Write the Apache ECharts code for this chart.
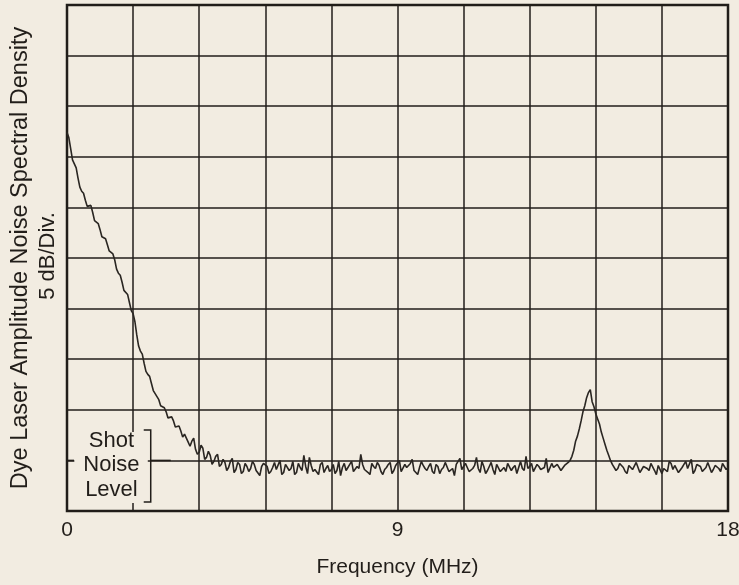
<!DOCTYPE html>
<html><head><meta charset="utf-8">
<script src="https://cdn.jsdelivr.net/npm/echarts@6/dist/echarts.min.js"></script>
<style>html,body{margin:0;padding:0;background:#f2ece1;}#c{width:739px;height:585px;}</style>
</head><body><div id="c"></div>
<script>
// Frequency axis (MHz): 0 .. 18; two interleaved sample sets
const freqStartA = 0, freqStartB = 0.05, freqStep = 0.1;
const xTickLabels = ['0', '9', '18'];
const xTitle = 'Frequency (MHz)';
const yTitle1 = 'Dye Laser Amplitude Noise Spectral Density';
const yTitle2 = '5 dB/Div.';
const shotLabel = ['Shot', 'Noise', 'Level'];
const shotNoiseLevel = 5; // dB above bottom of screen (one division)

// Samples A at 0.0, 0.1, ... 18.0 MHz (dB above bottom of screen)
const levelsRolloffA = [ // 0.0 .. 5.0
  37.4,35.8,34.3,32.9,31.6,30.7,30.0,29.5,28.6,27.8,
  27.1,26.3,25.6,24.8,23.5,22.6,21.7,20.6,19.5,17.4,
  15.8,14.6,13.5,12.6,11.6,11.0,10.3,9.8,9.1,8.9,
  8.2,7.9,7.6,6.8,6.9,6.1,5.8,6.2,5.3,5.5,
  4.9,5.6,4.6,4.8,4.3,5.2,4.1,4.6,3.9,4.4,
  4.2
];
const levelsFloorA1 = [ // 5.1 .. 13.6
  4.6,3.9,4.4,4.8,3.7,4.3,4.1,5.0,3.8,4.5,
  4.2,3.6,4.7,4.0,4.4,5.3,3.9,4.2,4.6,3.8,
  4.5,4.1,3.7,4.9,4.3,4.0,4.6,3.9,4.4,5.6,
  4.1,3.8,4.7,4.2,4.5,3.6,4.3,4.8,4.0,4.4,
  3.9,4.6,4.2,5.1,3.8,4.3,4.5,4.0,4.7,3.7,
  4.4,4.1,4.8,3.9,4.2,4.6,5.2,4.0,4.3,3.8,
  4.5,4.2,4.9,3.7,4.4,4.1,4.6,3.9,4.3,4.7,
  4.0,4.5,3.8,4.2,5.4,4.4,3.9,4.6,4.1,4.3,
  3.8,4.7,4.2,4.5,4.0,4.4
];
const levelsPeakA = [ // 13.7 .. 14.9
  5.0,6.0,7.4,8.9,10.4,11.7,10.8,9.6,8.6,7.2,6.0,5.0,4.5
];
const levelsFloorA2 = [ // 15.0 .. 18.0
  4.2,4.6,3.9,4.5,4.1,4.8,3.8,4.4,4.2,4.7,
  4.0,4.5,3.7,4.3,4.9,4.1,4.4,3.8,4.6,4.2,
  5.1,4.0,4.5,3.9,4.3,4.7,4.1,4.6,3.9,4.4,4.3
];

// Samples B at 0.05, 0.15, ... 17.95 MHz
const levelsRolloffB = [ // 0.05 .. 4.95
  36.9,34.7,33.9,32.0,31.4,30.1,30.2,28.7,28.4,27.1,
  26.9,25.7,25.4,23.9,23.3,21.8,21.4,19.8,18.7,16.3,
  15.5,13.8,13.3,11.9,11.5,10.4,10.2,9.2,9.3,8.3,
  8.4,7.3,7.5,6.4,7.2,5.6,6.5,5.1,5.9,4.6,
  5.4,4.4,5.1,4.0,4.9,3.8,4.8,3.7,4.7,3.9
];
const levelsFloorB1 = [ // 5.05 .. 13.65
  4.9,4.0,3.5,4.7,4.4,3.9,4.8,4.2,3.6,4.6,
  4.0,4.9,3.8,4.3,5.5,3.7,4.5,4.1,3.6,4.8,
  4.2,3.9,4.6,4.0,3.5,4.7,4.3,4.9,3.8,4.2,
  4.6,4.0,3.6,4.4,4.8,3.9,4.1,4.6,3.7,4.5,
  5.0,3.8,4.3,4.7,4.0,3.6,4.9,4.2,4.4,3.9,
  4.6,3.7,4.3,4.8,4.0,3.5,4.5,4.1,4.7,3.9,
  4.2,5.3,3.8,4.4,4.0,4.8,3.6,4.5,4.1,3.9,
  4.6,4.3,3.7,4.9,4.0,4.2,4.7,3.8,4.4,4.1,
  5.2,3.9,4.3,4.6,4.0,4.5,4.8
];
const levelsPeakB = [ // 13.75 .. 14.85
  5.4,6.9,8.1,9.8,11.2,12.0,10.3,9.1,7.8,6.6,5.5,4.6
];
const levelsFloorB2 = [ // 14.95 .. 17.95
  4.0,4.7,4.3,3.7,4.6,4.2,4.9,3.9,4.5,4.0,
  4.8,3.6,4.4,4.2,3.9,4.7,4.5,3.8,4.3,4.9,
  4.1,3.7,4.6,4.4,4.0,4.8,3.8,4.5,4.2,4.7,4.1
];

const levelsA = levelsRolloffA.concat(levelsFloorA1, levelsPeakA, levelsFloorA2);
const levelsB = levelsRolloffB.concat(levelsFloorB1, levelsPeakB, levelsFloorB2);
const pts = [];
levelsA.forEach((v, i) => pts.push([+(freqStartA + i * freqStep).toFixed(2), v]));
levelsB.forEach((v, i) => pts.push([+(freqStartB + i * freqStep).toFixed(2), v]));
pts.sort((a, b) => a[0] - b[0]);

const BG = '#f2ece1', INK = '#221e1a', FONT = '"Liberation Sans", Arial, Helvetica, sans-serif';
const chart = echarts.init(document.getElementById('c'), null, {renderer: 'canvas'});
chart.setOption({
  backgroundColor: BG,
  animation: false,
  grid: {left: 67, right: 11, top: 5, bottom: 74, outerBoundsMode: 'none', containLabel: false,
         show: true, borderColor: INK, borderWidth: 2.5, backgroundColor: 'transparent'},
  xAxis: {
    type: 'value', min: 0, max: 18, interval: 1.8,
    name: xTitle, nameLocation: 'middle', nameGap: 46,
    nameTextStyle: {fontFamily: FONT, fontSize: 21, color: INK},
    axisLine: {show: false}, axisTick: {show: false},
    splitLine: {show: true, lineStyle: {color: INK, width: 1.5}},
    axisLabel: {
      margin: 9, fontFamily: FONT, fontSize: 21, color: INK, showMinLabel: true, showMaxLabel: true,
      formatter: v => {
        const r = Math.round(v);
        return (Math.abs(v - r) < 1e-6 && xTickLabels.indexOf(String(r)) >= 0) ? String(r) : '';
      }
    }
  },
  yAxis: {
    type: 'value', min: 0, max: 50, interval: 5,
    axisLine: {show: false}, axisTick: {show: false}, axisLabel: {show: false},
    splitLine: {show: true, lineStyle: {color: INK, width: 1.5}}
  },
  series: [{
    type: 'line', data: pts, symbol: 'none', z: 5,
    lineStyle: {color: '#2a2622', width: 1.6}
  }]
});

function place() {
  const p = (f, v) => chart.convertToPixel({gridIndex: 0}, [f, v]);
  const gTop = p(0, 50), gBot = p(0, 0);
  const midY = (gTop[1] + gBot[1]) / 2;
  const boxL = p(0.2, 7.8), boxR = p(2.2, 0.8);
  const bx = p(2.28, 0)[0];
  const bt = p(0, 8.0)[1], bb = p(0, 0.9)[1];
  const tx = p(1.21, 0)[0];
  const lineYs = [6.9, 4.6, 2.1].map(v => p(0, v)[1]);
  chart.setOption({
    graphic: [
      {type: 'text', x: 21, y: midY, rotation: Math.PI / 2,
       style: {text: yTitle1, font: '23.5px ' + FONT, fill: INK, align: 'center', verticalAlign: 'middle'}},
      {type: 'text', x: 48, y: midY - 2, rotation: Math.PI / 2,
       style: {text: yTitle2, font: '22px ' + FONT, fill: INK, align: 'center', verticalAlign: 'middle'}},
      {type: 'rect', shape: {x: boxL[0], y: boxL[1], width: boxR[0] - boxL[0], height: boxR[1] - boxL[1]},
       style: {fill: BG}, z: 50},
      ...shotLabel.map((t, i) => ({type: 'text', x: tx, y: lineYs[i], z: 60,
        style: {text: t, font: '22px ' + FONT, fill: INK, align: 'center', verticalAlign: 'middle'}})),
      {type: 'polyline', z: 60, shape: {points: [[bx - 7, bt], [bx, bt], [bx, bb], [bx - 7, bb]]},
       style: {stroke: INK, lineWidth: 1.5, fill: null}},
      {type: 'line', z: 60, shape: {x1: bx, y1: p(0, shotNoiseLevel)[1], x2: bx + 20, y2: p(0, shotNoiseLevel)[1]},
       style: {stroke: INK, lineWidth: 1.5}},
      {type: 'line', z: 60, shape: {x1: gBot[0], y1: p(0, shotNoiseLevel)[1], x2: gBot[0] + 7, y2: p(0, shotNoiseLevel)[1]},
       style: {stroke: INK, lineWidth: 1.5}}
    ]
  });
}
place();
</script></body></html>
